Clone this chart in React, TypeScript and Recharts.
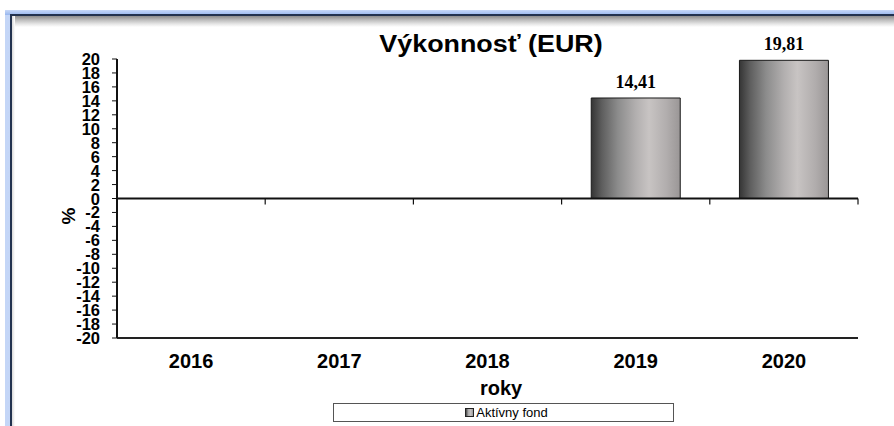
import React from 'react';
import { BarChart, Bar, XAxis, YAxis, ReferenceLine, LabelList } from 'recharts';

const years = ['2016', '2017', '2018', '2019', '2020'];
const fundValues: (number | null)[] = [null, null, null, 14.41, 19.81];
const yTicks = [-20, -18, -16, -14, -12, -10, -8, -6, -4, -2, 0, 2, 4, 6, 8, 10, 12, 14, 16, 18, 20];
const title = 'Výkonnosť (EUR)';
const xTitle = 'roky';
const yTitle = '%';
const seriesName = 'Aktívny fond';

const data = years.map((y, i) => ({ year: y, value: fundValues[i] }));

const SANS = '"Liberation Sans", Arial, sans-serif';
const SERIF = '"Liberation Serif", "Times New Roman", serif';

const ZeroLine = (props: any) => {
  const { x1, y1, x2, y2 } = props;
  if (x1 == null) return null;
  const n = years.length;
  const step = (x2 - x1) / n;
  const marks = [];
  for (let i = 1; i <= n; i++) {
    const x = x1 + step * i;
    marks.push(<line key={i} x1={x} x2={x} y1={y1} y2={y1 + 6} stroke="#111" strokeWidth={1.2} />);
  }
  return (
    <g>
      <line x1={x1} y1={y1} x2={x2} y2={y2} stroke="#111" strokeWidth={2} />
      {marks}
    </g>
  );
};

const YTick = (props: any) => {
  const { x, y, payload } = props;
  return (
    <text x={x} y={y + 6} textAnchor="end" fill="#000" fontSize={16.5} fontWeight={700} fontFamily={SANS}>
      {payload.value}
    </text>
  );
};

export default function App() {
  return (
    <div style={{ position: 'absolute', left: 0, top: 0, width: 894, height: 426, background: '#fff', overflow: 'hidden' }}>
      {/* frame */}
      <div style={{ position: 'absolute', left: 5, top: 10, width: 900, height: 430, background: 'linear-gradient(90deg,#c4d6f7,#9ab9ef)' }} />
      <div style={{ position: 'absolute', left: 5, top: 10, width: 900, height: 5, background: 'linear-gradient(180deg,#c8d9f8,#97b6ee)' }} />
      <div style={{ position: 'absolute', left: 10, top: 14, width: 900, height: 430, background: '#22324f' }} />
      <div style={{ position: 'absolute', left: 11.5, top: 15.5, width: 900, height: 430, background: 'linear-gradient(180deg,#8c8c8c 0px,#bdbdbd 4px,#e6e6e6 8px,#ffffff 11px)' }} />
      <div style={{ position: 'absolute', left: 11.5, top: 15.5, width: 3, height: 430, background: 'linear-gradient(90deg,#d8d8d8,#ffffff)' }} />

      <div style={{ position: 'absolute', left: 0, top: 0 }}>
        <BarChart
          width={894}
          height={426}
          data={data}
          margin={{ top: 59, right: 36, bottom: 58, left: 57 }}
          barCategoryGap="20%"
        >
          <defs>
            <linearGradient id="barGrad" x1="0" y1="0" x2="1" y2="0">
              <stop offset="0%" stopColor="#353535" />
              <stop offset="12%" stopColor="#5e5e5e" />
              <stop offset="30%" stopColor="#8c8c8c" />
              <stop offset="50%" stopColor="#b2afaf" />
              <stop offset="65%" stopColor="#c8c4c3" />
              <stop offset="85%" stopColor="#b1adad" />
              <stop offset="100%" stopColor="#9a9696" />
            </linearGradient>
          </defs>
          <XAxis
            dataKey="year"
            tickLine={false}
            tickSize={0}
            tickMargin={16}
            height={30}
            axisLine={{ stroke: '#222', strokeWidth: 2 }}
            tick={{ fill: '#000', fontSize: 20, fontWeight: 700, fontFamily: SANS }}
            interval={0}
          />
          <YAxis
            type="number"
            domain={[-20, 20]}
            ticks={yTicks}
            interval={0}
            width={60}
            tickSize={5}
            tickMargin={12}
            axisLine={{ stroke: '#111', strokeWidth: 2 }}
            tickLine={{ stroke: '#111', strokeWidth: 1 }}
            tick={<YTick />}
          />
          <ReferenceLine y={0} shape={ZeroLine} ifOverflow="visible" />
          <Bar dataKey="value" name={seriesName} fill="url(#barGrad)" stroke="#1a1a1a" strokeWidth={1} isAnimationActive={false}>
            <LabelList
              dataKey="value"
              position="top"
              offset={10}
              formatter={(v: any) => (v == null ? '' : Number(v).toFixed(2).replace('.', ','))}
              style={{ fill: '#000', fontSize: 18, fontWeight: 700, fontFamily: SERIF }}
            />
          </Bar>
        </BarChart>
      </div>

      {/* titles */}
      <svg width={894} height={426} style={{ position: 'absolute', left: 0, top: 0, pointerEvents: 'none' }}>
        <text transform="translate(491,52) scale(1.12,1)" textAnchor="middle" fontFamily={SANS} fontWeight={700} fontSize={24} fill="#000">{title}</text>
        <text x={501} y={395} textAnchor="middle" fontFamily={SANS} fontWeight={700} fontSize={20} fill="#000">{xTitle}</text>
        <text transform="translate(75,216) rotate(-90)" textAnchor="middle" fontFamily={SANS} fontWeight={700} fontSize={19} fill="#000">{yTitle}</text>
      </svg>

      {/* legend */}
      <div style={{ position: 'absolute', left: 333, top: 403, width: 339, height: 17, border: '1px solid #555', background: '#fff', display: 'flex', alignItems: 'center', justifyContent: 'center', fontFamily: SANS, fontSize: 13, color: '#000', boxSizing: 'content-box' }}>
        <div style={{ display: 'flex', alignItems: 'center', marginLeft: 6 }}>
          <span style={{ display: 'inline-block', width: 7, height: 7, border: '1px solid #222', background: 'linear-gradient(90deg,#444,#aaa,#c6c2c2,#999)', marginRight: 2 }} />
          <span style={{ lineHeight: '17px' }}>{seriesName}</span>
        </div>
      </div>
    </div>
  );
}
